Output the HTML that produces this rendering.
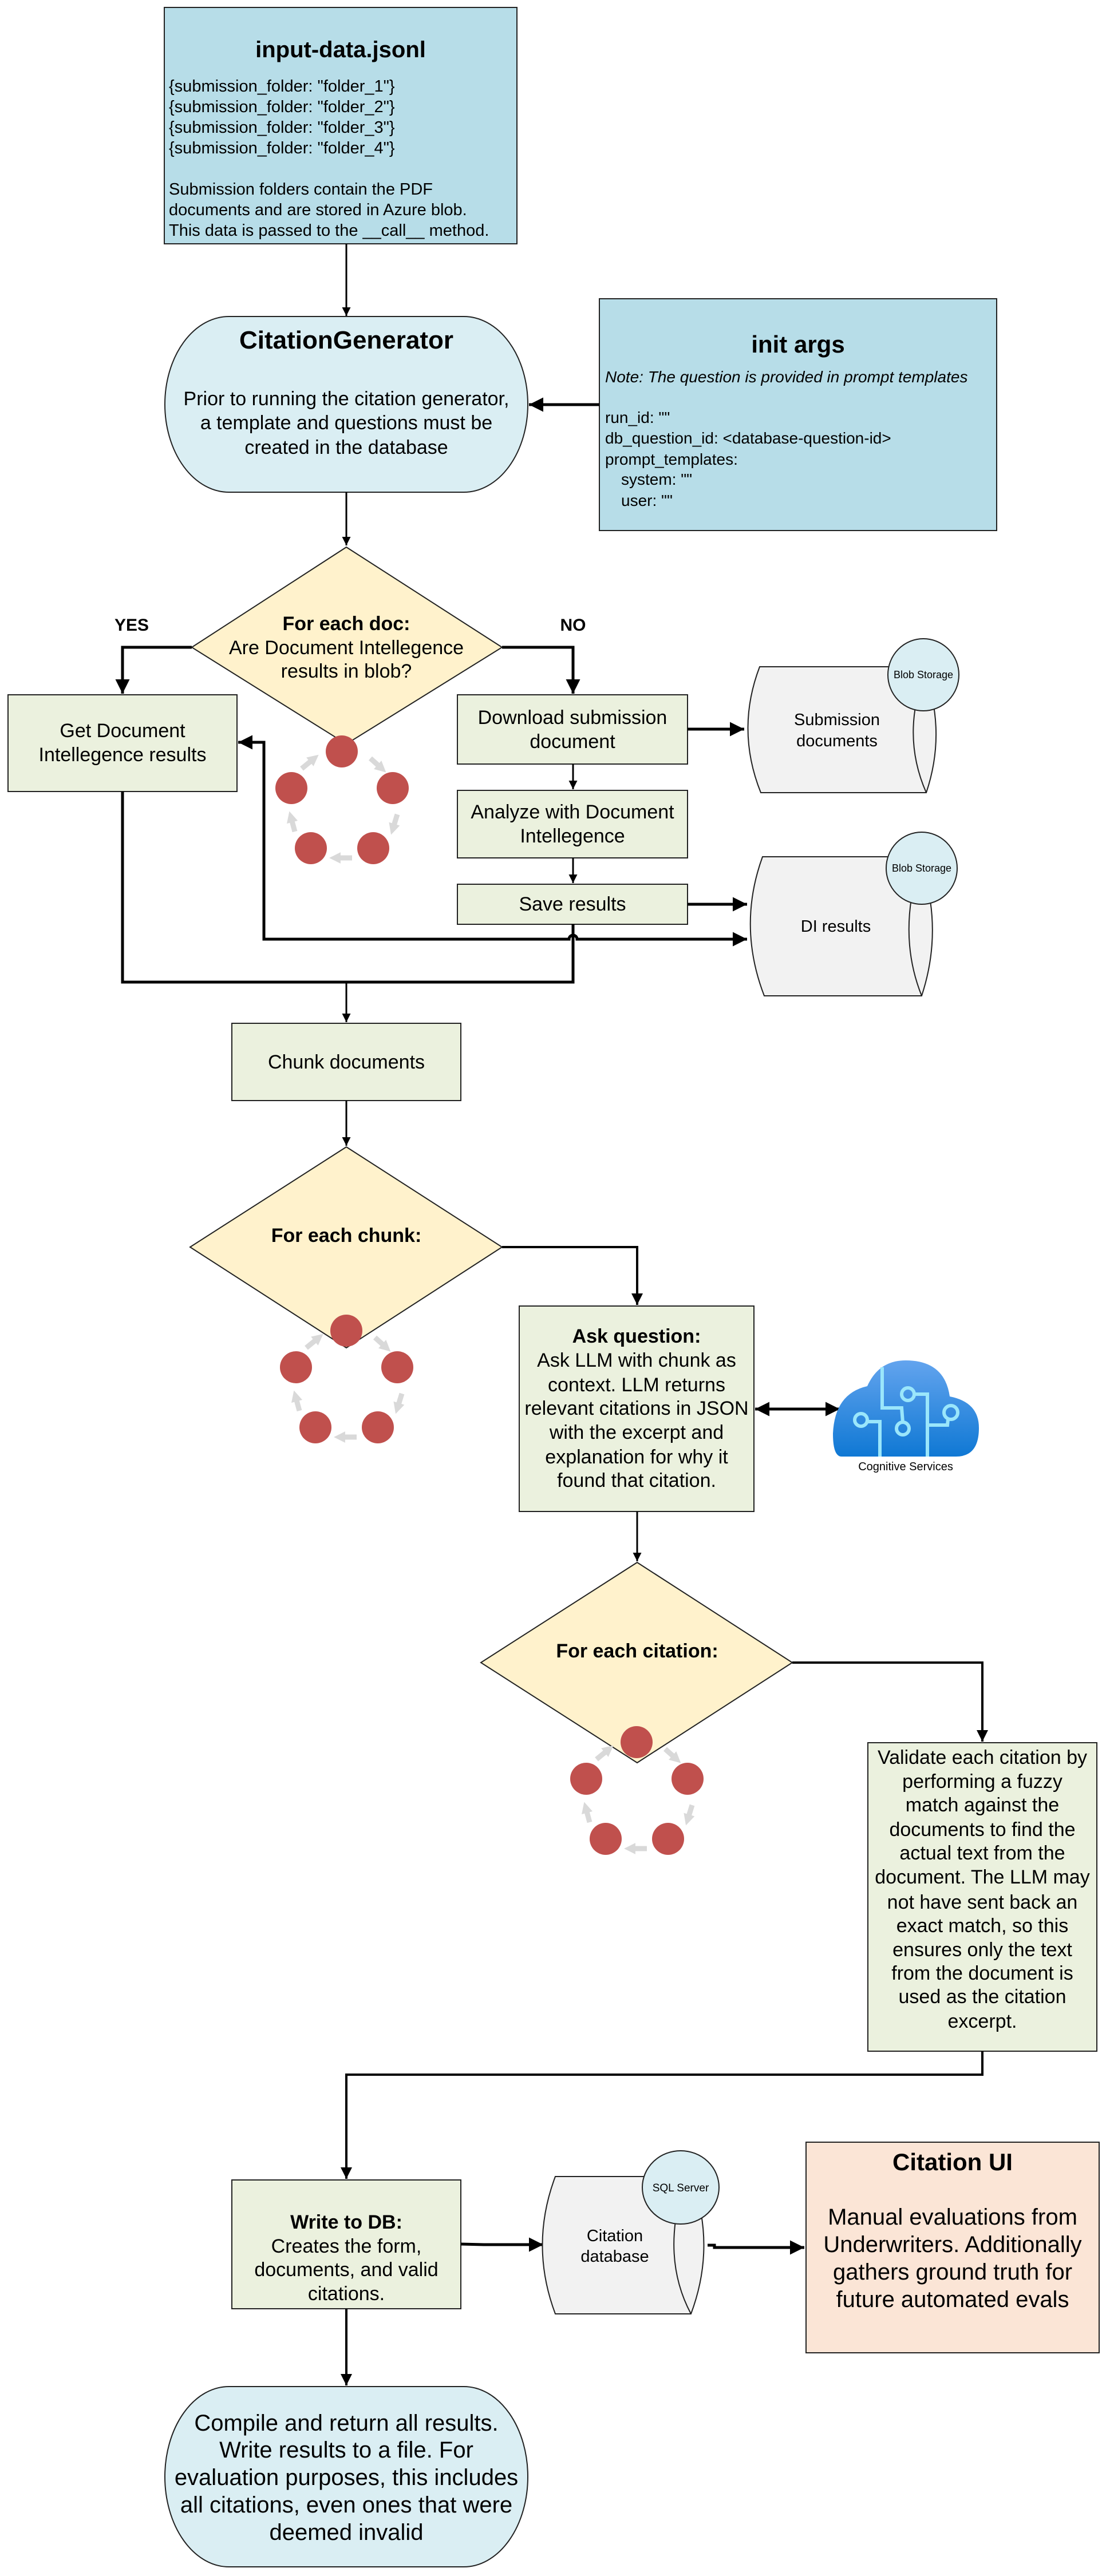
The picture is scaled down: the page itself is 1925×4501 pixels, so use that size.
<!DOCTYPE html>
<html><head><meta charset="utf-8"><style>
html,body{margin:0;padding:0;background:#fff;}
svg{display:block;}
text{font-family:"Liberation Sans",sans-serif;fill:#000;}
.t{font-size:34px;text-anchor:middle;}
.b{font-weight:bold;}
</style></head><body>
<svg width="1925" height="4501" viewBox="0 0 1925 4501" xmlns="http://www.w3.org/2000/svg">
<defs>
<marker id="ah" viewBox="0 0 10 10" refX="10" refY="5" markerWidth="5" markerHeight="5" orient="auto-start-reverse" markerUnits="strokeWidth"><path d="M0,0 L10,5 L0,10 Z" fill="#000"/></marker>
<marker id="ga" viewBox="0 0 10 10" refX="5" refY="5" markerWidth="2.2" markerHeight="2.2" orient="auto" markerUnits="strokeWidth"><path d="M0,0 L10,5 L0,10 Z" fill="#d9d9d9"/></marker>
<linearGradient id="cg" x1="0" y1="0" x2="0" y2="1"><stop offset="0" stop-color="#63a4ee"/><stop offset="1" stop-color="#0f78d4"/></linearGradient>
<g id="spin">
<line x1="50" y1="12" x2="70" y2="30" stroke="#d9d9d9" stroke-width="9" marker-end="url(#ga)"/>
<line x1="97" y1="110" x2="89" y2="136" stroke="#d9d9d9" stroke-width="9" marker-end="url(#ga)"/>
<line x1="18" y1="186" x2="-12" y2="186" stroke="#d9d9d9" stroke-width="9" marker-end="url(#ga)"/>
<line x1="-82" y1="140" x2="-89" y2="114" stroke="#d9d9d9" stroke-width="9" marker-end="url(#ga)"/>
<line x1="-70" y1="30" x2="-48" y2="12" stroke="#d9d9d9" stroke-width="9" marker-end="url(#ga)"/>
<circle cx="0" cy="0" r="28" fill="#c0504d"/>
<circle cx="-88" cy="64" r="28" fill="#c0504d"/>
<circle cx="89" cy="64" r="28" fill="#c0504d"/>
<circle cx="-54" cy="169" r="28" fill="#c0504d"/>
<circle cx="55" cy="169" r="28" fill="#c0504d"/>
</g>
</defs>

<!-- input-data -->
<rect x="287" y="13" width="616" height="413" fill="#b7dde8" stroke="#222" stroke-width="2"/>
<text x="595" y="100" class="t b" style="font-size:40px">input-data.jsonl</text>
<g style="font-size:29px">
<text x="295" y="160">{submission_folder: "folder_1"}</text>
<text x="295" y="196">{submission_folder: "folder_2"}</text>
<text x="295" y="232">{submission_folder: "folder_3"}</text>
<text x="295" y="268">{submission_folder: "folder_4"}</text>
<text x="295" y="340">Submission folders contain the PDF</text>
<text x="295" y="376">documents and are stored in Azure blob.</text>
<text x="295" y="412">This data is passed to the __call__ method.</text>
</g>
<line x1="605" y1="426" x2="605" y2="552" stroke="#000" stroke-width="3" marker-end="url(#ah)"/>

<!-- CitationGenerator -->
<path d="M400,553 L810,553 A112,153.5 0 0 1 810,860 L400,860 A112,153.5 0 0 1 400,553 Z" fill="#daeef3" stroke="#222" stroke-width="2"/>
<text x="605" y="609" class="t b" style="font-size:44px">CitationGenerator</text>
<text x="605" y="708" class="t">Prior to running the citation generator,</text>
<text x="605" y="750" class="t">a template and questions must be</text>
<text x="605" y="793" class="t">created in the database</text>

<!-- init args -->
<rect x="1047" y="522" width="694" height="405" fill="#b7dde8" stroke="#222" stroke-width="2"/>
<text x="1394" y="616" class="t b" style="font-size:42px">init args</text>
<g style="font-size:28px">
<text x="1057" y="668" font-style="italic">Note: The question is provided in prompt templates</text>
<text x="1057" y="739">run_id: ""</text>
<text x="1057" y="775">db_question_id: &lt;database-question-id&gt;</text>
<text x="1057" y="812">prompt_templates:</text>
<text x="1085" y="847">system: ""</text>
<text x="1085" y="884">user: ""</text>
</g>
<line x1="1047" y1="707" x2="924" y2="707" stroke="#000" stroke-width="5" marker-end="url(#ah)"/>
<line x1="605" y1="860" x2="605" y2="953" stroke="#000" stroke-width="3" marker-end="url(#ah)"/>

<!-- diamond 1 -->
<path d="M605,956 L877,1131 L605,1300 L335,1131 Z" fill="#fff2cc" stroke="#222" stroke-width="2"/>
<text x="605" y="1101" class="t b">For each doc:</text>
<text x="605" y="1143" class="t">Are Document Intellegence</text>
<text x="605" y="1184" class="t">results in blob?</text>
<text x="230" y="1102" class="t b" style="font-size:30px">YES</text>
<text x="1001" y="1102" class="t b" style="font-size:30px">NO</text>
<polyline points="335,1131 214,1131 214,1212" fill="none" stroke="#000" stroke-width="5" marker-end="url(#ah)"/>
<polyline points="877,1131 1001,1131 1001,1212" fill="none" stroke="#000" stroke-width="5" marker-end="url(#ah)"/>
<use href="#spin" x="597" y="1313"/>

<!-- Get DI -->
<rect x="14" y="1214" width="400" height="169" fill="#ebf1de" stroke="#222" stroke-width="2"/>
<text x="214" y="1288" class="t">Get Document</text>
<text x="214" y="1330" class="t">Intellegence results</text>

<!-- right column -->
<rect x="799" y="1214" width="402" height="121" fill="#ebf1de" stroke="#222" stroke-width="2"/>
<text x="1000" y="1265" class="t">Download submission</text>
<text x="1000" y="1307" class="t">document</text>
<line x1="1001" y1="1335" x2="1001" y2="1379" stroke="#000" stroke-width="3" marker-end="url(#ah)"/>
<rect x="799" y="1381" width="402" height="118" fill="#ebf1de" stroke="#222" stroke-width="2"/>
<text x="1000" y="1430" class="t">Analyze with Document</text>
<text x="1000" y="1472" class="t">Intellegence</text>
<line x1="1001" y1="1499" x2="1001" y2="1543" stroke="#000" stroke-width="3" marker-end="url(#ah)"/>
<rect x="799" y="1545" width="402" height="70" fill="#ebf1de" stroke="#222" stroke-width="2"/>
<text x="1000" y="1591" class="t">Save results</text>

<!-- Submission cylinder -->
<path d="M1327,1165 L1612,1165 Q1655,1275 1618,1385 L1329,1385 Q1285,1275 1327,1165 Z" fill="#f2f2f2" stroke="#222" stroke-width="2"/>
<path d="M1600,1230 Q1585,1310 1618,1385" fill="none" stroke="#222" stroke-width="2"/>
<ellipse cx="1613" cy="1179" rx="62" ry="63" fill="#daeef3" stroke="#222" stroke-width="2"/>
<text x="1613" y="1185" text-anchor="middle" style="font-size:18px">Blob Storage</text>
<text x="1462" y="1267" class="t" style="font-size:29px">Submission</text>
<text x="1462" y="1304" class="t" style="font-size:29px">documents</text>
<line x1="1201" y1="1274" x2="1300" y2="1274" stroke="#000" stroke-width="5" marker-end="url(#ah)"/>

<!-- DI cylinder -->
<path d="M1332,1497 L1605,1497 Q1650,1618 1610,1740 L1335,1740 Q1288,1618 1332,1497 Z" fill="#f2f2f2" stroke="#222" stroke-width="2"/>
<path d="M1592,1570 Q1578,1660 1610,1740" fill="none" stroke="#222" stroke-width="2"/>
<ellipse cx="1610" cy="1517" rx="62" ry="63" fill="#daeef3" stroke="#222" stroke-width="2"/>
<text x="1610" y="1523" text-anchor="middle" style="font-size:18px">Blob Storage</text>
<text x="1460" y="1628" class="t" style="font-size:29px">DI results</text>
<line x1="1201" y1="1580" x2="1305" y2="1580" stroke="#000" stroke-width="5" marker-end="url(#ah)"/>

<!-- loop line -->
<path d="M1305,1641 L1008,1641 A7,7 0 0 0 994,1641 L461,1641 L461,1297 L416,1297" fill="none" stroke="#000" stroke-width="5" marker-start="url(#ah)" marker-end="url(#ah)"/>

<!-- merge -->
<polyline points="214,1383 214,1716 1001,1716 1001,1615" fill="none" stroke="#000" stroke-width="5"/>
<line x1="605" y1="1716" x2="605" y2="1786" stroke="#000" stroke-width="3" marker-end="url(#ah)"/>

<rect x="405" y="1788" width="400" height="135" fill="#ebf1de" stroke="#222" stroke-width="2"/>
<text x="605" y="1867" class="t">Chunk documents</text>
<line x1="605" y1="1923" x2="605" y2="2002" stroke="#000" stroke-width="3" marker-end="url(#ah)"/>

<!-- diamond 2 -->
<path d="M605,2004 L877,2179 L605,2355 L332,2179 Z" fill="#fff2cc" stroke="#222" stroke-width="2"/>
<text x="605" y="2170" class="t b">For each chunk:</text>
<use href="#spin" x="605" y="2325"/>
<polyline points="877,2179 1113,2179 1113,2280" fill="none" stroke="#000" stroke-width="4" marker-end="url(#ah)"/>

<!-- Ask question -->
<rect x="907" y="2282" width="410" height="359" fill="#ebf1de" stroke="#222" stroke-width="2"/>
<text x="1112" y="2346" class="t b">Ask question:</text>
<text x="1112" y="2388" class="t">Ask LLM with chunk as</text>
<text x="1112" y="2431" class="t">context. LLM returns</text>
<text x="1112" y="2472" class="t">relevant citations in JSON</text>
<text x="1112" y="2514" class="t">with the excerpt and</text>
<text x="1112" y="2557" class="t">explanation for why it</text>
<text x="1112" y="2598" class="t">found that citation.</text>
<line x1="1319" y1="2462" x2="1467" y2="2462" stroke="#000" stroke-width="5" marker-start="url(#ah)" marker-end="url(#ah)"/>

<!-- cloud -->
<path d="M1470,2545 Q1455,2545 1455,2505 Q1458,2435 1515,2422 Q1535,2377 1582,2377 Q1650,2377 1659,2440 Q1710,2450 1710,2495 Q1710,2545 1670,2545 Z" fill="url(#cg)"/>
<g fill="none" stroke="#9ae6fb" stroke-width="6">
<path d="M1541,2389 L1541,2460 L1575,2460 L1577,2485"/>
<circle cx="1577" cy="2496" r="11"/>
<circle cx="1586" cy="2436" r="11"/>
<path d="M1597,2436 L1620,2436 L1620,2545"/>
<path d="M1620,2490 L1655,2490 L1656,2480"/>
<circle cx="1661" cy="2468" r="12"/>
<circle cx="1504" cy="2481" r="11"/>
<path d="M1515,2484 L1537,2484 L1537,2545"/>
</g>
<text x="1582" y="2569" text-anchor="middle" style="font-size:20px">Cognitive Services</text>

<line x1="1113" y1="2641" x2="1113" y2="2728" stroke="#000" stroke-width="3" marker-end="url(#ah)"/>

<!-- diamond 3 -->
<path d="M1113,2730 L1384,2905 L1113,3080 L840,2905 Z" fill="#fff2cc" stroke="#222" stroke-width="2"/>
<text x="1113" y="2896" class="t b">For each citation:</text>
<use href="#spin" x="1112" y="3044"/>
<polyline points="1384,2905 1716,2905 1716,3043" fill="none" stroke="#000" stroke-width="4" marker-end="url(#ah)"/>

<!-- Validate -->
<rect x="1516" y="3045" width="400" height="539" fill="#ebf1de" stroke="#222" stroke-width="2"/>
<text x="1716" y="3082" class="t">Validate each citation by</text>
<text x="1716" y="3124" class="t">performing a fuzzy</text>
<text x="1716" y="3165" class="t">match against the</text>
<text x="1716" y="3208" class="t">documents to find the</text>
<text x="1716" y="3249" class="t">actual text from the</text>
<text x="1716" y="3291" class="t">document. The LLM may</text>
<text x="1716" y="3335" class="t">not have sent back an</text>
<text x="1716" y="3376" class="t">exact match, so this</text>
<text x="1716" y="3418" class="t">ensures only the text</text>
<text x="1716" y="3459" class="t">from the document is</text>
<text x="1716" y="3500" class="t">used as the citation</text>
<text x="1716" y="3543" class="t">excerpt.</text>
<polyline points="1716,3584 1716,3625 605,3625 605,3807" fill="none" stroke="#000" stroke-width="4" marker-end="url(#ah)"/>

<!-- Write to DB -->
<rect x="405" y="3809" width="400" height="225" fill="#ebf1de" stroke="#222" stroke-width="2"/>
<text x="605" y="3894" class="t b">Write to DB:</text>
<text x="605" y="3936" class="t">Creates the form,</text>
<text x="605" y="3977" class="t">documents, and valid</text>
<text x="605" y="4019" class="t">citations.</text>
<polyline points="805,3921 845,3922 949,3922" fill="none" stroke="#000" stroke-width="5" marker-end="url(#ah)"/>

<!-- Citation database -->
<path d="M970,3803 L1207,3803 Q1252,3923 1207,4043 L970,4043 Q925,3923 970,3803 Z" fill="#f2f2f2" stroke="#222" stroke-width="2"/>
<path d="M1180,3880 Q1168,3970 1207,4043" fill="none" stroke="#222" stroke-width="2"/>
<ellipse cx="1189" cy="3822" rx="67" ry="64" fill="#daeef3" stroke="#222" stroke-width="2"/>
<text x="1189" y="3829" text-anchor="middle" style="font-size:19px">SQL Server</text>
<text x="1074" y="3916" class="t" style="font-size:29px">Citation</text>
<text x="1074" y="3952" class="t" style="font-size:29px">database</text>
<polyline points="1236,3923 1248,3923 1248,3927 1405,3927" fill="none" stroke="#000" stroke-width="5" marker-end="url(#ah)"/>

<!-- Citation UI -->
<rect x="1408" y="3743" width="512" height="368" fill="#fbe5d6" stroke="#222" stroke-width="2"/>
<text x="1664" y="3792" class="t b" style="font-size:42px">Citation UI</text>
<text x="1664" y="3887" class="t" style="font-size:40px">Manual evaluations from</text>
<text x="1664" y="3935" class="t" style="font-size:40px">Underwriters. Additionally</text>
<text x="1664" y="3983" class="t" style="font-size:40px">gathers ground truth for</text>
<text x="1664" y="4031" class="t" style="font-size:40px">future automated evals</text>

<line x1="605" y1="4034" x2="605" y2="4168" stroke="#000" stroke-width="4" marker-end="url(#ah)"/>

<!-- Final terminal -->
<path d="M400,4170 L810,4170 A112,157.5 0 0 1 810,4485 L400,4485 A112,157.5 0 0 1 400,4170 Z" fill="#daeef3" stroke="#222" stroke-width="2"/>
<text x="605" y="4247" class="t" style="font-size:40px">Compile and return all results.</text>
<text x="605" y="4294" class="t" style="font-size:40px">Write results to a file. For</text>
<text x="605" y="4342" class="t" style="font-size:40px">evaluation purposes, this includes</text>
<text x="605" y="4390" class="t" style="font-size:40px">all citations, even ones that were</text>
<text x="605" y="4438" class="t" style="font-size:40px">deemed invalid</text>
</svg>
</body></html>
